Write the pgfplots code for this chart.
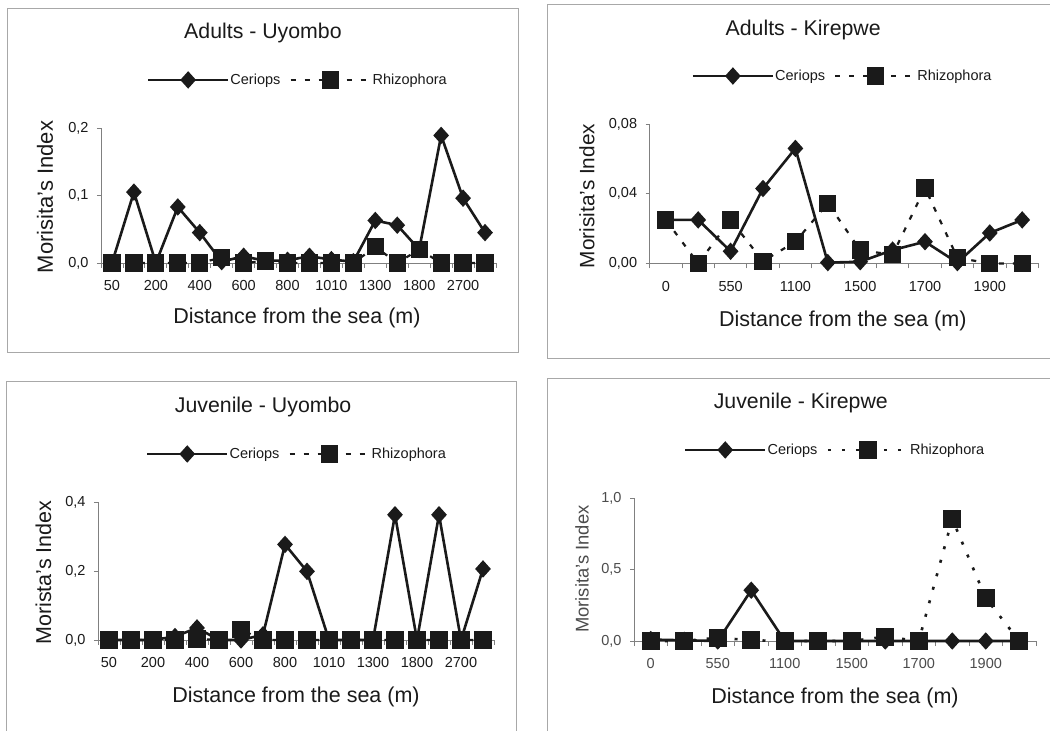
\documentclass[border=0pt]{standalone}
\usepackage{fontspec}
\setmainfont{Liberation Sans}
\usepackage{pgfplots}
\usepackage{pgfplotstable}
\pgfplotsset{compat=1.18}
\definecolor{axgray}{HTML}{808080}
\definecolor{framegray}{HTML}{A8A8A8}
\definecolor{ink}{HTML}{1A1A1A}

\pgfplotstableread{
i c r
0 0 0
1 0.105 0
2 0 0
3 0.083 0
4 0.045 0
5 0.002 0.008
6 0.010 0
7 0.003 0.003
8 0.004 0
9 0.010 0
10 0.005 0
11 0.002 0
12 0.063 0.024
13 0.056 0
14 0.020 0.020
15 0.189 0
16 0.096 0
17 0.045 0
}\adultsU

\pgfplotstableread{
i c r
0 0.025 0.025
1 0.025 0
2 0.007 0.025
3 0.043 0.0013
4 0.066 0.0125
5 0.0005 0.0345
6 0.001 0.0077
7 0.0077 0.005
8 0.0125 0.0433
9 0.0005 0.0033
10 0.0175 0
11 0.025 0
}\adultsK

\pgfplotstableread{
i c r
0 0 0
1 0 0
2 0 0
3 0.01 0
4 0.035 0.003
5 0 0
6 0 0.03
7 0.015 0
8 0.277 0
9 0.199 0
10 0 0
11 0 0
12 0 0
13 0.363 0
14 0 0
15 0.363 0
16 0 0
17 0.206 0
}\juvU

\pgfplotstableread{
i c r
0 0.01 0
1 0.005 0
2 0 0.023
3 0.355 0.005
4 0 0
5 0 0
6 0 0
7 0 0.03
8 0 0
9 0 0.853
10 0 0.30
11 0 0
}\juvK

\pgfplotsset{
  panel/.style={
    scale only axis, clip=false,
    scaled y ticks=false, scaled x ticks=false,
    axis x line*=bottom, axis y line*=left,
    axis line style={draw=axgray, line width=0.8pt},
    every tick/.style={draw=axgray, line width=0.8pt},
    tick align=outside,
    major tick length=4pt, minor tick length=5pt,
    every major x tick/.append style={draw=none},
    tick label style={font=\fontsize{14.5}{16}\selectfont, text=ink},
    xticklabel style={yshift=-10pt},
    yticklabel style={xshift=-5pt},
    label style={font=\fontsize{21.5}{24}\selectfont, text=ink},
    every axis title shift=0pt,
    title style={font=\fontsize{21.3}{24}\selectfont, text=ink},
    legend columns=2,
    legend style={draw=none, fill=none, inner sep=0pt, anchor=center,
      font=\fontsize{14.5}{17}\selectfont, text=ink, nodes={inner sep=1pt},
      /tikz/every even column/.append style={column sep=8pt}},
    legend image code/.code={\draw[mark repeat=2,mark phase=2,##1] plot coordinates {(0pt,0pt) (40pt,0pt) (80pt,0pt)};},
  },
  cer/.style={ink, line width=2.6pt, mark=diamond*, mark size=6.8pt, mark options={solid, xscale=1.2}},
  rhi/.style={ink, line width=2.2pt, dash pattern=on 5pt off 9pt, mark=square*, mark size=7.5pt, mark options={solid}},
  rhidot/.style={ink, line width=2.6pt, dash pattern=on 3pt off 11pt, mark=square*, mark size=7.5pt, mark options={solid}},
}

\begin{document}
\begin{tikzpicture}
\useasboundingbox (0,0) rectangle (1050pt,731pt);
\fill[white] (0,0) rectangle (1050pt,731pt);
% panel frames
\draw[framegray, line width=0.9pt] (7pt,379pt) rectangle (518pt,723pt);
\draw[framegray, line width=0.9pt] (1052pt,727pt) -- (547pt,727pt) -- (547pt,373pt) -- (1052pt,373pt);
\draw[framegray, line width=0.9pt] (6pt,-2pt) -- (6pt,350pt) -- (516pt,350pt) -- (516pt,-2pt);
\draw[framegray, line width=0.9pt] (547pt,-2pt) -- (547pt,353pt) -- (1052pt,353pt);

% Adults - Uyombo
\begin{axis}[panel,
  at={(101pt,468pt)}, anchor=south west, width=395pt, height=135pt,
  xmin=-0.5, xmax=17.5, ymin=0, ymax=0.2,
  xtick={0,2,...,16}, xticklabels={50,200,400,600,800,1010,1300,1800,2700},
  minor xtick={-0.5,0.5,...,17.5},
  ytick={0,0.1,0.2}, yticklabels={{0,0},{0,1},{0,2}},
  title={Adults - Uyombo}, title style={at={(axis description cs:0.410,1.704)}, anchor=center},
  legend style={at={(axis description cs:0.497,1.356)}},
  xlabel={Distance from the sea (m)}, xlabel style={at={(axis description cs:0.496,-0.405)}, anchor=center},
  ylabel={Morisita's Index}, ylabel style={at={(axis description cs:-0.142,0.489)}, anchor=center, font=\fontsize{22}{24}\selectfont},
]
\addplot[cer] table[x=i,y=c] {\adultsU};
\addplot[rhi] table[x=i,y=r] {\adultsU};
\legend{Ceriops,Rhizophora}
\end{axis}

% Adults - Kirepwe
\begin{axis}[panel,
  at={(649.6pt,467.5pt)}, anchor=south west, width=388.8pt, height=139.5pt,
  xmin=-0.5, xmax=11.5, ymin=0, ymax=0.08,
  xtick={0,2,...,10}, xticklabels={0,550,1100,1500,1700,1900},
  minor xtick={-0.5,0.5,...,11.5},
  ytick={0,0.04,0.08}, yticklabels={{0,00},{0,04},{0,08}},
  title={Adults - Kirepwe}, title style={at={(axis description cs:0.395,1.674)}, anchor=center},
  legend style={at={(axis description cs:0.495,1.344)}},
  xlabel={Distance from the sea (m)}, xlabel style={at={(axis description cs:0.497,-0.41)}, anchor=center},
  ylabel={Morisita's Index}, ylabel style={at={(axis description cs:-0.161,0.484)}, anchor=center, font=\fontsize{20.8}{23}\selectfont},
]
\addplot[cer] table[x=i,y=c] {\adultsK};
\addplot[rhi] table[x=i,y=r] {\adultsK};
\legend{Ceriops,Rhizophora}
\end{axis}

% Juvenile - Uyombo
\begin{axis}[panel,
  at={(98pt,91pt)}, anchor=south west, width=396pt, height=138pt,
  xmin=-0.5, xmax=17.5, ymin=0, ymax=0.4,
  xtick={0,2,...,16}, xticklabels={50,200,400,600,800,1010,1300,1800,2700},
  minor xtick={-0.5,0.5,...,17.5},
  ytick={0,0.2,0.4}, yticklabels={{0,0},{0,2},{0,4}},
  title={Juvenile - Uyombo}, title style={at={(axis description cs:0.417,1.688)}, anchor=center},
  legend style={at={(axis description cs:0.501,1.348)}},
  xlabel={Distance from the sea (m)}, xlabel style={at={(axis description cs:0.5,-0.41)}, anchor=center},
  ylabel={Morista's Index}, ylabel style={at={(axis description cs:-0.138,0.489)}, anchor=center},
]
\addplot[cer] table[x=i,y=c] {\juvU};
\addplot[rhi] table[x=i,y=r] {\juvU};
\legend{Ceriops,Rhizophora}
\end{axis}

% Juvenile - Kirepwe
\begin{axis}[panel,
  at={(634pt,90pt)}, anchor=south west, width=402pt, height=143pt,
  xmin=-0.5, xmax=11.5, ymin=0, ymax=1,
  xtick={0,2,...,10}, xticklabels={0,550,1100,1500,1700,1900},
  minor xtick={-0.5,0.5,...,11.5},
  ytick={0,0.5,1}, yticklabels={{0,0},{0,5},{1,0}},
  tick label style={text=black!70},
  title={Juvenile - Kirepwe}, title style={at={(axis description cs:0.415,1.664)}, anchor=center},
  legend style={at={(axis description cs:0.499,1.336)}},
  xlabel={Distance from the sea (m)}, xlabel style={at={(axis description cs:0.5,-0.395)}, anchor=center},
  ylabel={Morisita's Index}, ylabel style={at={(axis description cs:-0.129,0.503)}, anchor=center, font=\fontsize{18.4}{21}\selectfont, text=black!70},
]
\addplot[cer] table[x=i,y=c] {\juvK};
\addplot[rhidot] table[x=i,y=r] {\juvK};
\legend{Ceriops,Rhizophora}
\end{axis}
\end{tikzpicture}
\end{document}
